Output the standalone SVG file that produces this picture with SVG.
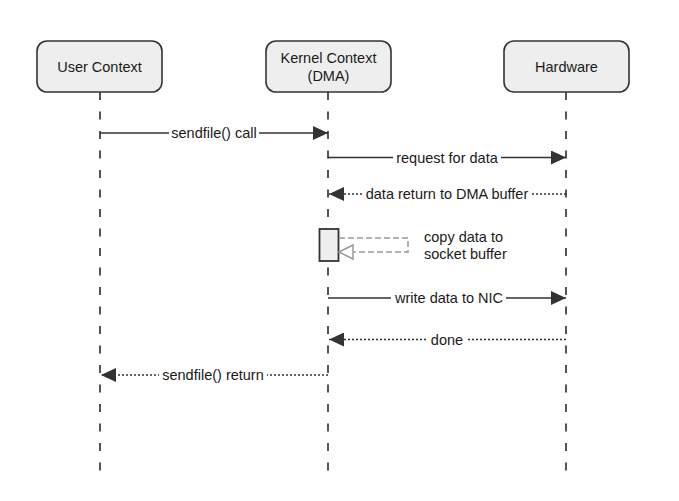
<svg xmlns="http://www.w3.org/2000/svg" width="679" height="501" viewBox="0 0 679 501">
<style>
.box{fill:#eeeeee;stroke:#333333;stroke-width:1.6}
.t{font-family:"Liberation Sans",Arial,sans-serif;font-size:14.5px;fill:#1a1a1a;text-anchor:middle}
.life{stroke:#555555;stroke-width:2;stroke-dasharray:8 11.5;fill:none}
.msg{stroke:#333333;stroke-width:1.5;fill:none}
.dot{stroke:#333333;stroke-width:1.5;stroke-dasharray:2 2;fill:none}
.self{stroke:#999999;stroke-width:1.5;stroke-dasharray:6 3;fill:none}
.bg{fill:#ffffff}
</style>
<defs>
<marker id="ah" markerUnits="userSpaceOnUse" markerWidth="16" markerHeight="14" refX="15" refY="7" orient="auto">
<path d="M0,0 L15,7 L0,14 Z" fill="#333333"/>
</marker>
</defs>
<rect width="679" height="501" fill="#ffffff"/>
<g id="lifelines">
<line class="life" x1="100" y1="92" x2="100" y2="478"/>
<line class="life" x1="328" y1="92" x2="328" y2="478"/>
<line class="life" x1="566" y1="92" x2="566" y2="478"/>
</g>
<g id="user">
<rect class="box" x="37" y="41" width="125" height="51" rx="10"/>
<text class="t" x="99.5" y="72">User Context</text>
</g>
<g id="kernel">
<rect class="box" x="266" y="41" width="125" height="51" rx="10"/>
<text class="t" x="328.5" y="63">Kernel Context</text>
<text class="t" x="328.5" y="81">(DMA)</text>
</g>
<g id="hardware">
<rect class="box" x="504" y="41" width="125" height="51" rx="10"/>
<text class="t" x="566.5" y="72">Hardware</text>
</g>
<g id="activation">
<rect x="319.5" y="229" width="19" height="32" fill="#eeeeee" stroke="#333333" stroke-width="1.8"/>
</g>
<g id="connectors">
<line class="msg" x1="100" y1="133" x2="328" y2="133" marker-end="url(#ah)"/>
<rect class="bg" x="169" y="124" width="90" height="18"/>
<text class="t" x="214" y="138">sendfile() call</text>

<line class="msg" x1="328" y1="157.5" x2="566" y2="157.5" marker-end="url(#ah)"/>
<rect class="bg" x="393" y="148" width="108" height="18"/>
<text class="t" x="447" y="162.5">request for data</text>

<line class="dot" x1="566" y1="194" x2="329" y2="194" marker-end="url(#ah)"/>
<rect class="bg" x="363" y="185" width="168" height="18"/>
<text class="t" x="447" y="199">data return to DMA buffer</text>

<path class="self" d="M339,238 H408 V252 H354"/>
<path d="M339,252 L353,245 L353,259 Z" fill="#ffffff" stroke="#999999" stroke-width="1.5"/>
<text class="t" x="424" y="242" style="text-anchor:start">copy data to</text>
<text class="t" x="424" y="259" style="text-anchor:start">socket buffer</text>

<line class="msg" x1="328" y1="298" x2="566" y2="298" marker-end="url(#ah)"/>
<rect class="bg" x="391" y="289" width="115" height="18"/>
<text class="t" x="449" y="303">write data to NIC</text>

<line class="dot" x1="566" y1="339.5" x2="329" y2="339.5" marker-end="url(#ah)"/>
<rect class="bg" x="428" y="330" width="38" height="18"/>
<text class="t" x="447" y="344.5">done</text>

<line class="dot" x1="328" y1="375" x2="101" y2="375" marker-end="url(#ah)"/>
<rect class="bg" x="159" y="366" width="108" height="18"/>
<text class="t" x="213" y="380">sendfile() return</text>
</g>
</svg>
